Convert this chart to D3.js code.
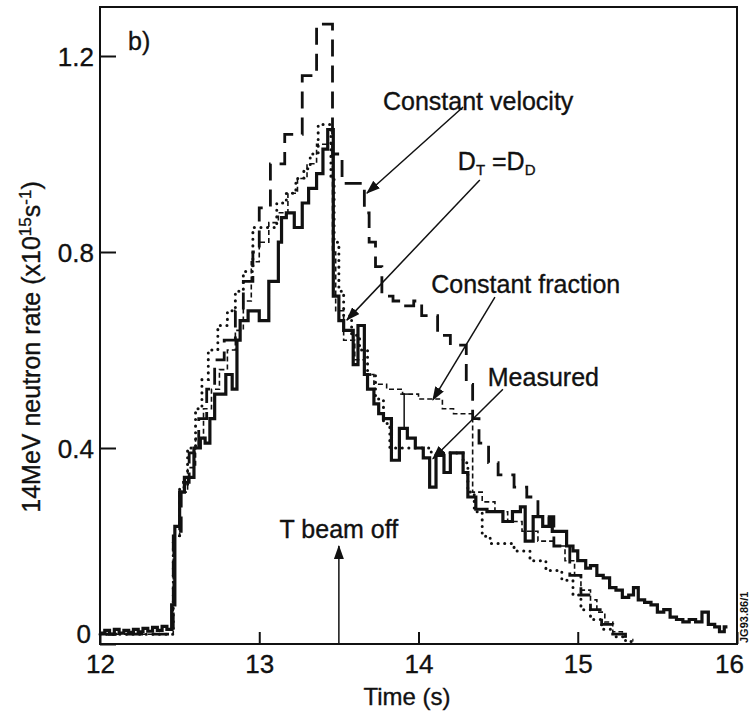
<!DOCTYPE html>
<html>
<head>
<meta charset="utf-8">
<script src="https://cdn.jsdelivr.net/npm/d3@7"></script>
<style>
  html, body { margin: 0; padding: 0; background: #fff; }
  svg { display: block; }
  text { font-family: "Liberation Sans", Arial, Helvetica, sans-serif; fill: #111; stroke: #111; stroke-width: 0.35px; }
</style>
</head>
<body>
<svg id="chart" width="750" height="717"></svg>
<script>
// ---- data: 14 MeV neutron rate (x10^15 s^-1) against time (s), step histograms ----
const measuredT = [12.00,12.03,12.06,12.09,12.12,12.15,12.18,12.21,12.24,12.27,12.30,12.33,12.36,12.39,12.42,
  12.45,12.47,12.50,12.53,12.59,12.63,12.66,12.69,12.72,12.79,12.83,12.86,12.88,12.93,13.00,13.06,13.12,13.14,
  13.17,13.22,13.27,13.31,13.36,13.40,13.43,13.465,13.50,13.53,13.59,13.62,13.66,13.68,13.72,13.75,13.78,13.83,
  13.88,13.93,13.98,14.03,14.07,14.11,14.16,14.20,14.28,14.31,14.36,14.43,14.53,14.59,14.64,14.67,14.72,14.78,
  14.82,14.84,14.93,14.97,15.00,15.05,15.08,15.12,15.16,15.20,15.24,15.28,15.32,15.35,15.38,15.42,15.46,15.50,
  15.54,15.58,15.62,15.66,15.70,15.74,15.78,15.82,15.86,15.89,15.92,15.94];
const measuredV = [0.022,0.028,0.020,0.030,0.022,0.028,0.024,0.030,0.025,0.032,0.026,0.034,0.028,0.036,0.030,
  0.080,0.240,0.310,0.340,0.400,0.420,0.410,0.460,0.510,0.550,0.520,0.620,0.660,0.680,0.660,0.740,0.820,0.870,
  0.880,0.850,0.900,0.930,0.960,1.010,1.050,0.710,0.660,0.640,0.570,0.650,0.550,0.520,0.490,0.470,0.460,0.375,
  0.440,0.420,0.400,0.380,0.320,0.385,0.350,0.390,0.350,0.300,0.275,0.270,0.250,0.270,0.280,0.210,0.260,0.240,
  0.255,0.230,0.200,0.190,0.170,0.155,0.160,0.140,0.135,0.115,0.110,0.095,0.100,0.115,0.090,0.085,0.080,0.065,
  0.070,0.055,0.050,0.045,0.050,0.045,0.065,0.040,0.035,0.025,0.035,0.035];

const velocityT = [12.00,12.46,12.51,12.56,12.62,12.67,12.72,12.78,12.85,12.90,12.96,13.00,13.07,13.16,13.27,13.36,
  13.46,13.52,13.66,13.69,13.73,13.77,13.84,13.91,13.97,14.02,14.12,14.20,14.30,14.34,14.38,14.44,14.50,14.60,
  14.68,14.75,14.85,14.95,15.02,15.08,15.15,15.22,15.30,15.35];
const velocityV = [0.020,0.230,0.330,0.390,0.460,0.520,0.580,0.620,0.680,0.740,0.800,0.890,0.980,1.040,1.160,1.265,
  1.000,0.940,0.880,0.820,0.770,0.710,0.700,0.690,0.700,0.670,0.630,0.610,0.530,0.460,0.410,0.370,0.345,0.320,
  0.300,0.260,0.200,0.140,0.100,0.070,0.040,0.020,0.008,0.008];

const equalDT = [12.00,12.46,12.50,12.55,12.60,12.64,12.68,12.74,12.80,12.85,12.90,12.96,13.04,13.11,13.17,13.23,
  13.28,13.32,13.37,13.45,13.47,13.50,13.53,13.58,13.63,13.68,13.73,13.78,13.82,14.08,14.28,14.31,14.35,14.40,
  14.45,14.60,14.70,14.80,14.90,14.97,15.02,15.08,15.15,15.22,15.30,15.36];
const equalDV = [0.020,0.220,0.320,0.400,0.480,0.540,0.600,0.650,0.680,0.720,0.760,0.850,0.850,0.900,0.920,0.950,
  0.970,1.000,1.060,0.950,0.820,0.720,0.670,0.630,0.600,0.550,0.500,0.450,0.400,0.390,0.370,0.310,0.270,0.220,
  0.205,0.190,0.170,0.150,0.130,0.100,0.070,0.050,0.030,0.015,0.005,0.005];

const fractionT = [12.00,12.46,12.50,12.55,12.60,12.65,12.70,12.75,12.80,12.85,12.90,12.95,13.00,13.06,13.12,13.18,
  13.24,13.30,13.36,13.46,13.48,13.53,13.60,13.66,13.72,13.80,13.90,14.00,14.15,14.22,14.34,14.40,14.48,14.56,
  14.65,14.75,14.85,14.92,14.98,15.02,15.08,15.12,15.17,15.22,15.28,15.32];
const fractionV = [0.020,0.220,0.310,0.360,0.420,0.480,0.520,0.560,0.600,0.640,0.700,0.780,0.820,0.860,0.880,0.920,
  0.950,0.980,1.020,0.800,0.680,0.620,0.580,0.550,0.530,0.520,0.510,0.500,0.480,0.470,0.310,0.290,0.270,0.250,
  0.230,0.210,0.200,0.170,0.140,0.110,0.090,0.065,0.045,0.025,0.015,0.015];

// error bar drawn on the measured trace: [time, low, high]
const measuredErrors = [[13.91, 0.44, 0.51]];

// axis ticks
const xTicks = [12, 13, 14, 15, 16];
const yTicks = [0, 0.4, 0.8, 1.2];

// beam switch-off marker
const beamOffTime = 13.5;

// ---- layout ----
const svg = d3.select("#chart");
const x = d3.scaleLinear().domain([12, 16]).range([100, 737]);
const y = d3.scaleLinear().domain([0, 1.3]).range([644, 7]);

function pairs(ts, vs) { return ts.map((t, i) => [t, vs[i]]); }
const stepLine = d3.line().x(d => x(d[0])).y(d => y(d[1])).curve(d3.curveStepAfter);

// arrow head marker
svg.append("defs").append("marker")
  .attr("id", "head").attr("viewBox", "0 0 14 10").attr("refX", 13).attr("refY", 5)
  .attr("markerWidth", 14).attr("markerHeight", 10).attr("markerUnits", "userSpaceOnUse")
  .attr("orient", "auto")
  .append("path").attr("d", "M0,0 L14,5 L0,10 Z").attr("fill", "#111");

// ---- series ----
const series = [
  { data: pairs(equalDT, equalDV), width: 3, dash: "0.1,6.5", cap: "round" },
  { data: pairs(fractionT, fractionV), width: 1.6, dash: "5,3", cap: "butt" },
  { data: pairs(velocityT, velocityV), width: 2.8, dash: "17,9", cap: "butt" },
  { data: pairs(measuredT, measuredV), width: 3.2, dash: null, cap: "butt" }
];
svg.append("g").selectAll("path").data(series).join("path")
  .attr("d", d => stepLine(d.data))
  .attr("fill", "none").attr("stroke", "#111")
  .attr("stroke-width", d => d.width)
  .attr("stroke-dasharray", d => d.dash)
  .attr("stroke-linecap", d => d.cap)
  .attr("stroke-linejoin", "miter");

const eb = svg.append("g").attr("stroke", "#111").attr("stroke-width", 1.5);
measuredErrors.forEach(([t, lo, hi]) => {
  eb.append("line").attr("x1", x(t)).attr("x2", x(t)).attr("y1", y(lo)).attr("y2", y(hi));
  eb.append("line").attr("x1", x(t) - 4).attr("x2", x(t) + 4).attr("y1", y(hi)).attr("y2", y(hi));
});

// ---- axes and frame ----
const yAxis = d3.axisLeft(y).tickValues(yTicks).tickSizeInner(-16).tickSizeOuter(0).tickPadding(6)
  .tickFormat(d => d === 0 ? "0" : d.toFixed(1));
const gy = svg.append("g").attr("transform", `translate(${x(12)},0)`).call(yAxis);
const xAxis = d3.axisBottom(x).tickValues(xTicks).tickSizeInner(-12).tickSizeOuter(0).tickPadding(10)
  .tickFormat(d3.format("d"));
const gx = svg.append("g").attr("transform", `translate(0,${y(0)})`).call(xAxis);
[gx, gy].forEach(g => {
  g.select(".domain").remove();
  g.selectAll(".tick line").attr("stroke", "#111").attr("stroke-width", 2);
  g.selectAll(".tick text").attr("font-size", 26);
});
gy.selectAll(".tick text")
  .attr("dy", d => d === 0 ? "-0.05em" : "0.35em")
  .attr("dx", d => d === 0 ? -3 : 0);
gx.selectAll(".tick text").attr("dy", "0.72em").attr("dx", d => d === 16 ? -8 : 0);

svg.append("rect")
  .attr("x", x(12)).attr("y", y(1.3)).attr("width", x(16) - x(12)).attr("height", y(0) - y(1.3))
  .attr("fill", "none").attr("stroke", "#111").attr("stroke-width", 2);

// axis titles
svg.append("text").attr("x", 407).attr("y", 705).attr("text-anchor", "middle")
  .attr("font-size", 24).text("Time (s)");

const yl = svg.append("text").attr("transform", "translate(40,347) rotate(-90)")
  .attr("text-anchor", "middle").attr("font-size", 25);
yl.append("tspan").text("14MeV neutron rate  (x10");
yl.append("tspan").attr("font-size", 17).attr("dy", -9).text("15");
yl.append("tspan").attr("dy", 9).text("s");
yl.append("tspan").attr("font-size", 17).attr("dy", -9).text("-1");
yl.append("tspan").attr("dy", 9).text(")");

// panel letter and figure id
svg.append("text").attr("x", 128).attr("y", 50).attr("font-size", 25).text("b)");
svg.append("text").attr("transform", "translate(748,643) rotate(-90)")
  .attr("font-size", 11).attr("font-weight", "bold").style("stroke-width", "0").text("JG93.86/1");

// ---- annotations (positions in data units) ----
const notes = [
  { label: "Constant velocity", tx: 13.777, ty: 1.09, from: [14.28, 1.096], to: [13.676, 0.92] },
  { label: "D_T =D_D",          tx: 14.247, ty: 0.967, from: [14.385, 0.947], to: [13.55, 0.661] },
  { label: "Constant fraction", tx: 14.08, ty: 0.716, from: [14.48, 0.708], to: [14.09, 0.498] },
  { label: "Measured",          tx: 14.435, ty: 0.526, from: [14.53, 0.52], to: [14.09, 0.378] }
];
const ag = svg.append("g");
notes.forEach(n => {
  ag.append("line")
    .attr("x1", x(n.from[0])).attr("y1", y(n.from[1]))
    .attr("x2", x(n.to[0])).attr("y2", y(n.to[1]))
    .attr("stroke", "#111").attr("stroke-width", 1.5).attr("marker-end", "url(#head)");
  const t = ag.append("text").attr("x", x(n.tx)).attr("y", y(n.ty)).attr("font-size", 25);
  if (n.label === "D_T =D_D") {
    t.append("tspan").text("D");
    t.append("tspan").attr("font-size", 15).attr("dy", 5).text("T");
    t.append("tspan").attr("dy", -5).text(" =D");
    t.append("tspan").attr("font-size", 15).attr("dy", 5).text("D");
  } else {
    t.text(n.label);
  }
});

// T beam off marker
svg.append("line")
  .attr("x1", x(beamOffTime)).attr("x2", x(beamOffTime))
  .attr("y1", y(0)).attr("y2", y(0.2))
  .attr("stroke", "#111").attr("stroke-width", 1.5).attr("marker-end", "url(#head)");
svg.append("text").attr("x", x(beamOffTime)).attr("y", y(0.217)).attr("text-anchor", "middle")
  .attr("font-size", 25).text("T beam off");
</script>
</body>
</html>
